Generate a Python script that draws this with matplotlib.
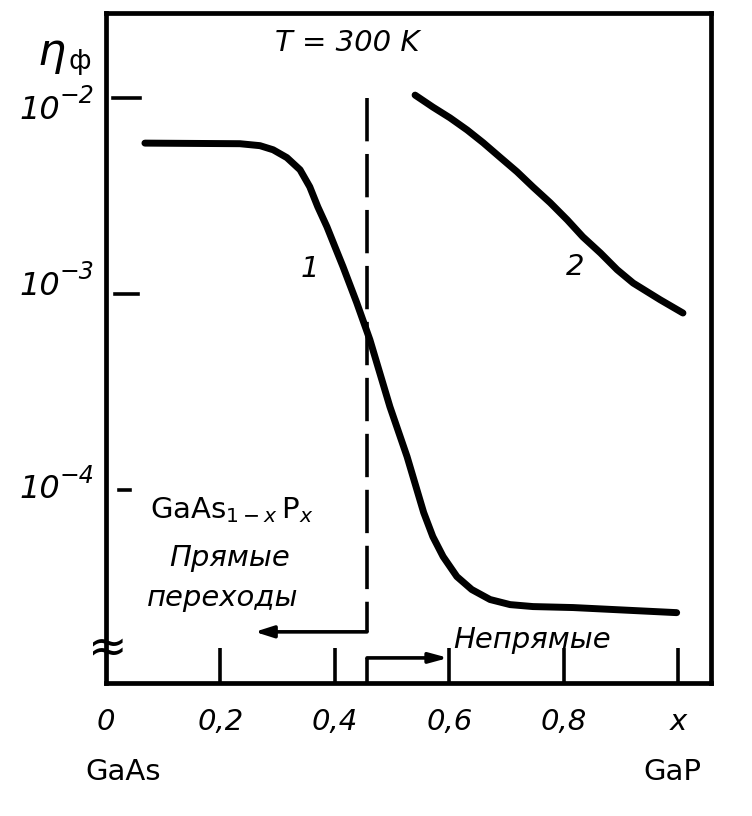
import matplotlib
matplotlib.use("Agg")
import matplotlib.pyplot as plt
import matplotlib.transforms as mtrans

plt.rcParams['font.family'] = ['DejaVu Sans']
plt.rcParams['mathtext.fontset'] = 'dejavusans'

# ---- data ----
x1 = [0.068, 0.234, 0.269, 0.292, 0.316, 0.339, 0.356, 0.370, 0.386, 0.400,
      0.414, 0.438, 0.461, 0.475, 0.496, 0.526, 0.555, 0.571, 0.589,
      0.613, 0.639, 0.671, 0.706, 0.746, 0.816, 0.997]
logy1 = [-2.230, -2.233, -2.243, -2.264, -2.304, -2.366, -2.453, -2.555, -2.657, -2.759,
         -2.860, -3.044, -3.233, -3.370, -3.575, -3.830, -4.115, -4.238, -4.340,
         -4.442, -4.508, -4.559, -4.585, -4.595, -4.600, -4.626]
x2 = [0.540, 0.571, 0.601, 0.631, 0.659, 0.688, 0.718, 0.746, 0.776, 0.806,
      0.833, 0.864, 0.893, 0.921, 0.968, 1.008]
logy2 = [-1.985, -2.046, -2.101, -2.163, -2.228, -2.301, -2.376, -2.454, -2.534, -2.622,
         -2.708, -2.791, -2.876, -2.944, -3.029, -3.097]
y1 = [10 ** v for v in logy1]
y2 = [10 ** v for v in logy2]

x_border = 0.456               # direct / indirect transition boundary
x_left_arrow_end = 0.260
x_right_arrow_end = 0.598
y_left_arrow = 10 ** -4.724
y_right_arrow = 10 ** -4.857
y_dash_top = 10 ** -2.0

xticks = [0.0, 0.2, 0.4, 0.6, 0.8, 1.0]
xticklabels = ['0', '0,2', '0,4', '0,6', '0,8', 'x']
yticks = [1e-2, 1e-3, 1e-4]
ytick_exponents = ['-2', '-3', '-4']

# ---- figure ----
W, H = 752, 816
fig = plt.figure(figsize=(W / 100, H / 100), dpi=100)
L, R, T, B = 106, 711, 13, 683
ax = fig.add_axes([L / W, 1 - B / H, (R - L) / W, (B - T) / H])


def axpos(px, py):
    return ((px - L) / (R - L), (B - py) / (B - T))


ax.set_yscale('log')
ax.set_xlim(0, 1.057)
ax.set_ylim(10 ** -4.985, 10 ** -1.566)

for s in ax.spines.values():
    s.set_linewidth(3.4)

# curves
lw_curve = 5.0
ax.plot(x1, y1, color='black', lw=lw_curve, solid_capstyle='round', solid_joinstyle='round')
ax.plot(x2, y2, color='black', lw=lw_curve, solid_capstyle='round', solid_joinstyle='round')

# dashed boundary line
ax.plot([x_border, x_border], [y_dash_top, y_left_arrow], color='black', lw=2.6,
        dashes=(12, 3.5))
ax.plot([x_border, x_border], [y_right_arrow, 10 ** -4.985], color='black', lw=2.6,
        solid_capstyle='butt')

# arrows
ax.annotate('', xy=(x_left_arrow_end, y_left_arrow), xytext=(x_border, y_left_arrow),
            arrowprops=dict(arrowstyle='-|>,head_length=1.1,head_width=0.35',
                            color='black', lw=2.6, shrinkA=0, shrinkB=0))
ax.annotate('', xy=(x_right_arrow_end, y_right_arrow), xytext=(x_border, y_right_arrow),
            arrowprops=dict(arrowstyle='-|>,head_length=1.1,head_width=0.3',
                            color='black', lw=2.6, shrinkA=0, shrinkB=0))

# x ticks (inward)
ax.set_xticks(xticks)
ax.set_xticklabels(xticklabels, fontsize=21, style='italic')
ax.tick_params(axis='x', direction='in', length=25, width=2.6, pad=18)
ax.xaxis.get_major_ticks()[0].tick1line.set_visible(False)

# y ticks: detached dashes + labels placed against the data scale
ax.set_yticks([])
ax.yaxis.set_minor_locator(matplotlib.ticker.NullLocator())
bt = mtrans.blended_transform_factory(ax.transAxes, ax.transData)
dash_ext = [(0.012, 0.056), (0.015, 0.053), (0.022, 0.040)]
label_dy = [-12, 8, 0]
for yv, ex, (a, b), dy in zip(yticks, ytick_exponents, dash_ext, label_dy):
    ax.plot([a, b], [yv, yv], color='black', lw=2.6, transform=bt, clip_on=False)
    ax.annotate('10', xy=(0, yv), xycoords=bt, xytext=(-46, dy),
                textcoords='offset pixels', ha='right', va='center',
                fontsize=23, style='italic', annotation_clip=False)
    ax.annotate('\u2212' + ex[1:], xy=(0, yv), xycoords=bt, xytext=(-12, dy + 14),
                textcoords='offset pixels', ha='right', va='center',
                fontsize=17, style='italic', annotation_clip=False)

# texts
def txt(px, py, s, **kw):
    x, y = axpos(px, py)
    ax.text(x, y, s, transform=ax.transAxes, ha='center', va='center',
            clip_on=False, **kw)

txt(52, 52, 'η', fontsize=32, style='italic')
txt(80, 62, 'ф', fontsize=19)
txt(347, 43, 'T = 300 K', fontsize=21, style='italic')
txt(310, 269, '1', fontsize=21, style='italic')
txt(575, 267, '2', fontsize=21, style='italic')
txt(232, 510, r'GaAs$_{1-x}\,$P$_x$', fontsize=21)
txt(230, 558, 'Прямые', fontsize=21, style='italic')
txt(223, 598, 'переходы', fontsize=21, style='italic')
txt(532, 640, 'Непрямые', fontsize=21, style='italic')
txt(108, 650, '≈', fontsize=34)
txt(123, 772, 'GaAs', fontsize=21)
txt(672, 772, 'GaP', fontsize=21)

fig.savefig('out.png', dpi=100)
